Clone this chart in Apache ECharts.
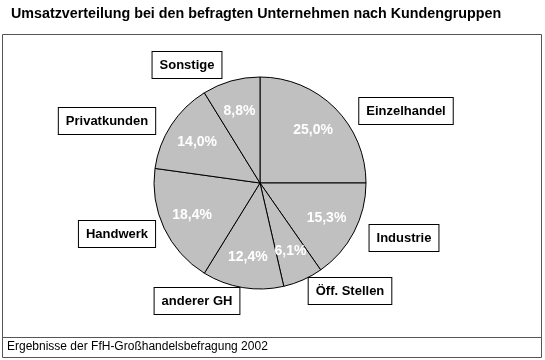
<!DOCTYPE html>
<html><head><meta charset="utf-8">
<script src="https://cdn.jsdelivr.net/npm/echarts@6/dist/echarts.min.js"></script>
<style>html,body{margin:0;padding:0;background:#fff}#c{width:545px;height:360px}</style>
</head><body><div id="c"></div>
<script>
const categories = ['Einzelhandel','Industrie','Öff. Stellen','anderer GH','Handwerk','Privatkunden','Sonstige'];
const shares = [25.0, 15.3, 6.1, 12.4, 18.4, 14.0, 8.8];
const titleText = 'Umsatzverteilung bei den befragten Unternehmen nach Kundengruppen';
const footerText = 'Ergebnisse der FfH-Großhandelsbefragung 2002';

// label box anchor positions (layout, pixels)
const labelPos = [[406,111],[404,238],[350,291],[197,301],[117,234],[107,121],[187,65]];

const chart = echarts.init(document.getElementById('c'), null, {renderer:'canvas'});
const data = categories.map((n,i)=>({name:n, value:shares[i]}));
const FONT = '"Liberation Sans", Arial, sans-serif';
chart.setOption({
  animation:false,
  title:{text:titleText, left:6, top:2, textStyle:{fontFamily:FONT, fontSize:14.3, fontWeight:'bold', color:'#000'}},
  graphic:[
    {type:'rect', shape:{x:2.5,y:34.5,width:539,height:323}, style:{fill:'none', stroke:'#555', lineWidth:1}, z:0},
    {type:'line', shape:{x1:2.5,y1:337.5,x2:541.5,y2:337.5}, style:{stroke:'#555', lineWidth:1}, z:0},
    {type:'text', left:7, top:341, style:{text:footerText, font:'12px '+FONT, fill:'#000'}}
  ],
  series:[
    {type:'pie', center:[260,183], radius:106, startAngle:90, clockwise:true, silent:true,
     data:data,
     itemStyle:{color:'#c0c0c0', borderColor:'#000', borderWidth:1},
     label:{show:true, position:'outside', formatter:'{b}', fontFamily:FONT, fontSize:13, fontWeight:'bold', color:'#000',
            backgroundColor:'#fff', borderColor:'#000', borderWidth:1, padding:[7,7,6,7]},
     labelLine:{show:false},
     labelLayout:function(p){return {x:labelPos[p.dataIndex][0], y:labelPos[p.dataIndex][1], align:'center', verticalAlign:'middle', hideOverlap:false};},
     emphasis:{disabled:true}
    },
    {type:'pie', center:[260,183], radius:[38,106], startAngle:90, clockwise:true, silent:true,
     data:data,
     itemStyle:{color:'rgba(0,0,0,0)', borderWidth:0},
     label:{show:true, position:'inside', formatter:p=>p.value.toFixed(1).replace('.',',')+'%', fontFamily:FONT, fontSize:14, fontWeight:'bold', color:'#fff'},
     labelLine:{show:false},
     emphasis:{disabled:true}
    }
  ]
});
</script></body></html>
